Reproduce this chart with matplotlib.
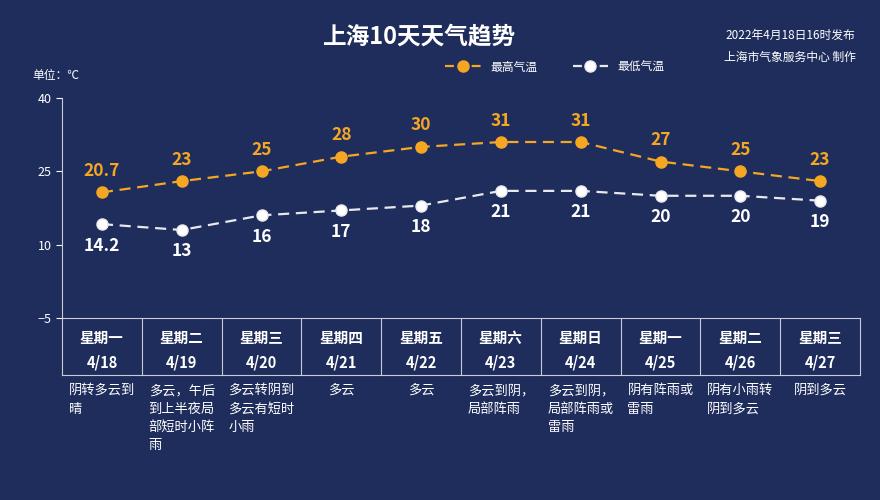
import matplotlib.pyplot as plt
from matplotlib.lines import Line2D

plt.rcParams["font.family"] = ["Noto Sans CJK SC", "DejaVu Sans"]

weekdays = ["星期一", "星期二", "星期三", "星期四", "星期五", "星期六", "星期日", "星期一", "星期二", "星期三"]
dates = ["4/18", "4/19", "4/20", "4/21", "4/22", "4/23", "4/24", "4/25", "4/26", "4/27"]
high = [20.7, 23, 25, 28, 30, 31, 31, 27, 25, 23]
low = [14.2, 13, 16, 17, 18, 21, 21, 20, 20, 19]
high_labels = ["20.7", "23", "25", "28", "30", "31", "31", "27", "25", "23"]
low_labels = ["14.2", "13", "16", "17", "18", "21", "21", "20", "20", "19"]
weather = [
    "阴转多云到\n晴",
    "多云，午后\n到上半夜局\n部短时小阵\n雨",
    "多云转阴到\n多云有短时\n小雨",
    "多云",
    "多云",
    "多云到阴，\n局部阵雨",
    "多云到阴，\n局部阵雨或\n雷雨",
    "阴有阵雨或\n雷雨",
    "阴有小雨转\n阴到多云",
    "阴到多云",
]
yticks = [40, 25, 10, -5]

BG = "#1f2d5c"
ORANGE = "#f5a623"
WHITE = "#ffffff"

fig = plt.figure(figsize=(8.8, 5), dpi=100, facecolor=BG)
ax = fig.add_axes([62 / 880, 1 - 318 / 500, 798 / 880, 220 / 500], facecolor=BG)
x = list(range(len(dates)))

ax.plot(x, high, color=ORANGE, lw=1.6, ls=(0, (5, 3)), marker="o", ms=8, zorder=3)
ax.plot(x, low, color="#e8e8ee", lw=1.6, ls=(0, (5, 3)), marker="o", ms=8,
        markerfacecolor=WHITE, zorder=3)
for i in x:
    ax.annotate(high_labels[i], (i, high[i]), xytext=(0, 9), textcoords="offset points",
                ha="center", va="bottom", color=ORANGE, fontsize=12.5, fontweight="bold")
    ax.annotate(low_labels[i], (i, low[i]), xytext=(0, -9), textcoords="offset points",
                ha="center", va="top", color=WHITE, fontsize=12.5, fontweight="bold")

ax.set_xlim(-0.5, len(dates) - 0.5)
ax.set_ylim(-5, 40)
ax.set_yticks(yticks)
ax.set_xticks([])
ax.tick_params(axis="y", colors=WHITE, labelsize=9, length=4)
for s in ["top", "right", "bottom"]:
    ax.spines[s].set_visible(False)
ax.spines["left"].set_color("#c8cbd8")

# table below the plot
tb = -0.26
for i in range(len(dates) + 1):
    ax.add_line(Line2D([i - 0.5, i - 0.5], [-5, -5], color=WHITE))
    ax.plot([i - 0.5, i - 0.5], [0, tb], transform=ax.get_xaxis_transform(),
            color="#c8cbd8", lw=0.8, clip_on=False)
ax.plot([-0.5, len(dates) - 0.5], [tb, tb], transform=ax.get_xaxis_transform(),
        color="#c8cbd8", lw=0.8, clip_on=False)
ax.plot([-0.5, len(dates) - 0.5], [0, 0], transform=ax.get_xaxis_transform(),
        color="#c8cbd8", lw=0.8, clip_on=False)
for i in x:
    ax.text(i, -0.09, weekdays[i], transform=ax.get_xaxis_transform(), ha="center",
            va="center", color=WHITE, fontsize=10.5, fontweight="bold")
    ax.text(i, -0.2, dates[i], transform=ax.get_xaxis_transform(), ha="center",
            va="center", color=WHITE, fontsize=10.5, fontweight="bold")
    ax.text(i, -0.3, weather[i], transform=ax.get_xaxis_transform(), ha="center",
            va="top", multialignment="left", color=WHITE, fontsize=9.5, linespacing=1.55)

fig.text(420 / 880, 1 - 36 / 500, "上海10天天气趋势", ha="center", va="center",
         color=WHITE, fontsize=17, fontweight="bold")
fig.text(790 / 880, 1 - 35 / 500, "2022年4月18日16时发布", ha="center", va="center",
         color=WHITE, fontsize=8.5)
fig.text(790 / 880, 1 - 57 / 500, "上海市气象服务中心 制作", ha="center", va="center",
         color=WHITE, fontsize=8.5)
fig.text(32 / 880, 1 - 76 / 500, "单位：℃", ha="left", va="center", color=WHITE, fontsize=8.5)

leg = [Line2D([], [], color=ORANGE, ls=(0, (4, 2)), marker="o", ms=8, lw=1.6, label="最高气温"),
       Line2D([], [], color="#e8e8ee", ls=(0, (4, 2)), marker="o", ms=8, lw=1.6,
              markerfacecolor=WHITE, label="最低气温")]
lg = fig.legend(handles=leg, loc="center", bbox_to_anchor=(555 / 880, 1 - 67 / 500), ncol=2,
                frameon=False, fontsize=8.5, handlelength=3, columnspacing=3)
for t in lg.get_texts():
    t.set_color(WHITE)

fig.savefig("out.png", dpi=100, facecolor=BG)
